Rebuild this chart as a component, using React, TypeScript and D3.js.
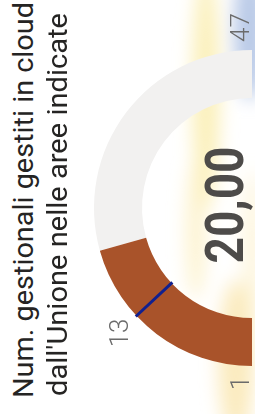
import { useMemo } from 'react';
import * as d3 from 'd3';

// --- Data ---
const titleLines = ['Num. gestionali gestiti in cloud', "dall'Unione nelle aree indicate"];
const gaugeMin = 1;
const gaugeMax = 47;
const gaugeValue = 20;
const gaugeTarget = 13;
const valueLabel = '20,00';

const W = 255;
const H = 414;

const App = () => {
    // gauge is drawn rotated: min at bottom, max at top, flat edge on the right
    const cx = 252;
    const cy = 208;
    const rOuter = 158;
    const rInner = 110;

    const angle = useMemo(
        () => d3.scaleLinear().domain([gaugeMin, gaugeMax]).range([Math.PI, 2 * Math.PI]),
        []
    );

    const arc = d3.arc<any>().innerRadius(rInner).outerRadius(rOuter);
    const fillPath = arc({ startAngle: angle(gaugeMin), endAngle: angle(gaugeValue) } as any) || '';
    const trackPath = arc({ startAngle: angle(gaugeValue), endAngle: angle(gaugeMax) } as any) || '';

    const polar = (a: number, r: number) => [cx + r * Math.sin(a), cy - r * Math.cos(a)];
    const ta = angle(gaugeTarget);
    const [tx1, ty1] = polar(ta, rInner - 1);
    const [tx2, ty2] = polar(ta, rOuter + 1);
    const [lx, ly] = polar(ta, 183);

    const labelFont = "Roboto, 'DejaVu Sans', sans-serif";

    return (
        <div style={{ position: 'fixed', top: 0, left: 0, width: W, height: H, overflow: 'hidden', background: '#fff' }}>
            <svg width={W} height={H}>
                <defs>
                    <filter id="blur" x="-50%" y="-50%" width="200%" height="200%">
                        <feGaussianBlur stdDeviation="9" />
                    </filter>
                </defs>

                {/* blurred background photo */}
                <g filter="url(#blur)">
                    <ellipse cx={206} cy={90} rx={14} ry={120} fill="#fbeeb4" opacity={0.9} />
                    <ellipse cx={196} cy={230} rx={10} ry={70} fill="#fcf0c4" opacity={0.8} />
                    <ellipse cx={236} cy={360} rx={18} ry={80} fill="#fbe9b8" opacity={0.9} />
                    <ellipse cx={252} cy={250} rx={8} ry={80} fill="#fcefc8" opacity={0.7} />
                    <ellipse cx={250} cy={30} rx={16} ry={70} fill="#b4c6e6" opacity={0.95} />
                </g>

                {/* gauge */}
                <g transform={`translate(${cx},${cy})`}>
                    <path d={trackPath} fill="#f2f1f0" />
                    <path d={fillPath} fill="#a9532a" />
                </g>
                <line x1={tx1} y1={ty1} x2={tx2} y2={ty2} stroke="#102090" strokeWidth={3} />

                {/* min / max / target labels */}
                <text transform={`translate(249,${polar(angle(gaugeMax), rOuter)[1] - 8}) rotate(-90)`}
                      fontFamily={labelFont} fontSize={26} fontWeight={300} fill="#6b6b6b">{gaugeMax}</text>
                <text transform={`translate(249,${polar(angle(gaugeMin), rOuter)[1] + 17}) rotate(-90)`}
                      textAnchor="middle" fontFamily={labelFont} fontSize={26} fontWeight={300} fill="#6b6b6b">{gaugeMin}</text>
                <text transform={`translate(${lx + 10},${ly}) rotate(-90)`}
                      textAnchor="middle" fontFamily={labelFont} fontSize={26} fontWeight={300} fill="#6b6b6b">{gaugeTarget}</text>

                {/* value */}
                <text transform="translate(243,205) rotate(-90)" textAnchor="middle"
                      fontFamily={labelFont} fontSize={53} fontWeight={700} fill="#4d4b49"
                      textLength={117} lengthAdjust="spacingAndGlyphs">{valueLabel}</text>

                {/* title */}
                <text transform="translate(33,398) rotate(-90)" fontFamily={labelFont} fontSize={27}
                      fill="#252423" textLength={396} lengthAdjust="spacingAndGlyphs">{titleLines[0]}</text>
                <text transform="translate(67,396) rotate(-90)" fontFamily={labelFont} fontSize={27}
                      fill="#252423" textLength={383} lengthAdjust="spacingAndGlyphs">{titleLines[1]}</text>
            </svg>
        </div>
    );
};

export default App;
